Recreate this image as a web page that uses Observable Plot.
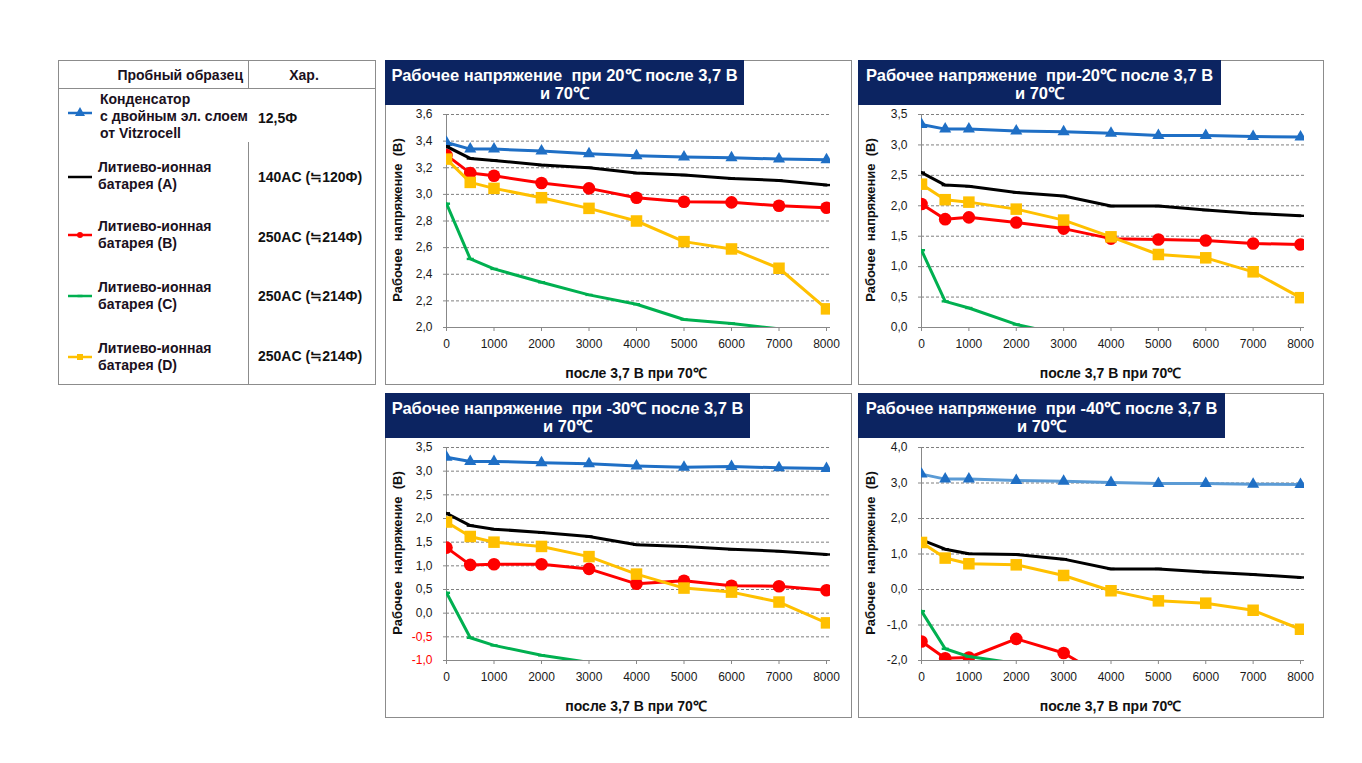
<!DOCTYPE html>
<html><head><meta charset="utf-8">
<script src="https://cdn.jsdelivr.net/npm/d3@7"></script>
<script src="https://cdn.jsdelivr.net/npm/@observablehq/plot@0.6"></script>
<style>
body{margin:0;background:#fff;font-family:"Liberation Sans",Arial,sans-serif;}
#root{position:relative;width:1362px;height:763px;overflow:hidden;}
.box{position:absolute;border:1px solid #8c8c8c;box-sizing:border-box;background:#fff;}
.abs{position:absolute;white-space:pre;}
.title{position:absolute;left:-1px;top:-1px;background:#0c2461;color:#fff;font-weight:bold;font-size:16.5px;line-height:18px;text-align:center;box-sizing:border-box;padding-top:6px;}
.ylab{position:absolute;font-weight:bold;font-size:13px;color:#111;text-align:center;transform:rotate(-90deg);white-space:pre;}
.xlab{position:absolute;font-weight:bold;font-size:14px;color:#111;text-align:center;white-space:pre;}
.lg{position:absolute;font-weight:bold;font-size:14px;color:#1a1020;line-height:17px;white-space:pre;}
svg.plot{position:absolute;left:0;top:0;background:transparent;}
</style>
</head><body><div id="root"></div>
<script>
// ---------- data ----------
const steps = [0, 500, 1000, 2000, 3000, 4000, 5000, 6000, 7000, 8000];
const xTickValues = [0, 1000, 2000, 3000, 4000, 5000, 6000, 7000, 8000];

const seriesLabels = [
  "Конденсатор\nс двойным эл. слоем\nот Vitzrocell",
  "Литиево-ионная\nбатарея (A)",
  "Литиево-ионная\nбатарея (B)",
  "Литиево-ионная\nбатарея (C)",
  "Литиево-ионная\nбатарея (D)"
];
const seriesRatings = ["12,5Ф", "140AC (≒120Ф)", "250AC (≒214Ф)", "250AC (≒214Ф)", "250AC (≒214Ф)"];
const tableHeader = ["Пробный образец", "Хар."];

const panelTitles = [
  "Рабочее напряжение  при 20℃ после 3,7 В",
  "Рабочее напряжение  при-20℃ после 3,7 В",
  "Рабочее напряжение  при -30℃ после 3,7 В",
  "Рабочее напряжение  при -40℃ после 3,7 В"
];
const panelSubtitle = "и 70℃";
const yAxisTitle = "Рабочее  напряжение  (В)";
const xAxisTitle = "после 3,7 В при 70℃";

// +20 °C
const yTicksP20 = [2.0, 2.2, 2.4, 2.6, 2.8, 3.0, 3.2, 3.4, 3.6];
const edlcP20 = [3.39, 3.34, 3.34, 3.325, 3.305, 3.29, 3.28, 3.275, 3.265, 3.26];
const liAP20  = [3.36, 3.27, 3.255, 3.22, 3.20, 3.16, 3.145, 3.12, 3.105, 3.07];
const liBP20  = [3.295, 3.16, 3.14, 3.085, 3.045, 2.975, 2.945, 2.94, 2.915, 2.90];
const liCP20  = [2.93, 2.515, 2.44, 2.34, 2.245, 2.175, 2.06, 2.03, 1.99];
const liDP20  = [3.265, 3.09, 3.045, 2.975, 2.895, 2.80, 2.645, 2.59, 2.445, 2.14];

// -20 °C
const yTicksM20 = [0.0, 0.5, 1.0, 1.5, 2.0, 2.5, 3.0, 3.5];
const edlcM20 = [3.335, 3.26, 3.26, 3.23, 3.215, 3.19, 3.155, 3.155, 3.14, 3.13];
const liAM20  = [2.545, 2.34, 2.32, 2.22, 2.16, 1.995, 1.995, 1.93, 1.875, 1.835];
const liBM20  = [2.03, 1.78, 1.81, 1.725, 1.625, 1.46, 1.445, 1.43, 1.38, 1.365];
const liCM20  = [1.27, 0.43, 0.32, 0.05, -0.12];
const liDM20  = [2.355, 2.10, 2.06, 1.945, 1.765, 1.49, 1.20, 1.145, 0.915, 0.49];

// -30 °C
const yTicksM30 = [-1.0, -0.5, 0.0, 0.5, 1.0, 1.5, 2.0, 2.5, 3.0, 3.5];
const edlcM30 = [3.295, 3.205, 3.205, 3.18, 3.155, 3.11, 3.085, 3.10, 3.07, 3.055];
const liAM30  = [2.11, 1.85, 1.775, 1.705, 1.62, 1.445, 1.41, 1.35, 1.31, 1.24];
const liBM30  = [1.385, 1.02, 1.035, 1.035, 0.935, 0.62, 0.685, 0.58, 0.57, 0.485];
const liCM30  = [0.43, -0.52, -0.68, -0.89, -1.04];
const liDM30  = [1.925, 1.62, 1.50, 1.41, 1.195, 0.825, 0.53, 0.445, 0.235, -0.205];

// -40 °C
const yTicksM40 = [-2.0, -1.0, 0.0, 1.0, 2.0, 3.0, 4.0];
const edlcM40 = [3.25, 3.11, 3.11, 3.07, 3.05, 3.015, 2.985, 2.985, 2.965, 2.96];
const liAM40  = [1.40, 1.135, 1.005, 0.985, 0.855, 0.58, 0.58, 0.49, 0.42, 0.34];
const liBM40  = [-1.465, -1.935, -1.915, -1.39, -1.79, -2.57];
const liCM40  = [-0.61, -1.67, -1.89, -2.08];
const liDM40  = [1.325, 0.885, 0.725, 0.695, 0.395, -0.035, -0.32, -0.385, -0.585, -1.12];

// ---------- styling ----------
const C = {blue:"#1f6fc5", blueLight:"#5b9bd5", black:"#000000", red:"#ff0000", green:"#00b050", yellow:"#ffc000"};
const dashSymbol = {draw(ctx, size){ const w = Math.sqrt(size); ctx.rect(-w/2, -1.2, w, 2.4); }};

const panels = [
  {left:385, top:60,  w:467, titleW:359, title:panelTitles[0], yTicks:yTicksP20, vals:[edlcP20, liAP20, liBP20, liCP20, liDP20], ml:60, xr:440, mr:21, blueLine:C.blue, negRed:false},
  {left:858, top:60,  w:466, titleW:363, title:panelTitles[1], yTicks:yTicksM20, vals:[edlcM20, liAM20, liBM20, liCM20, liDM20], ml:62, xr:441, mr:19, blueLine:C.blue, negRed:false},
  {left:385, top:393, w:467, titleW:365, title:panelTitles[2], yTicks:yTicksM30, vals:[edlcM30, liAM30, liBM30, liCM30, liDM30], ml:60, xr:440, mr:21, blueLine:C.blue, negRed:true},
  {left:858, top:393, w:466, titleW:367, title:panelTitles[3], yTicks:yTicksM40, vals:[edlcM40, liAM40, liBM40, liCM40, liDM40], ml:62, xr:441, mr:19, blueLine:C.blueLight, negRed:false}
];
const H = 325, MT = 53;
const fmt = d => d.toFixed(1).replace(".", ",");

const root = document.getElementById("root");
function el(cls, css, text){ const d=document.createElement("div"); d.className=cls; Object.assign(d.style, css); if(text!=null) d.textContent=text; return d; }

for (const p of panels) {
  const box = el("box", {left:p.left+"px", top:p.top+"px", width:p.w+"px", height:H+"px"});
  root.appendChild(box);
  const iw = p.w - 2, ih = H - 2;
  const rows = p.vals.map(v => v.map((y, i) => ({x: steps[i], y})));
  const lineColors = [p.blueLine, C.black, C.red, C.green, C.yellow];
  const markFill = [C.blue, C.black, C.red, C.green, C.yellow];
  const marks = [
    Plot.gridY(p.yTicks, {stroke:"#7f7f7f", strokeOpacity:1, strokeDasharray:"3,2", strokeWidth:1}),
    Plot.axisY(p.yTicks.filter(d => d >= 0 || !p.negRed), {tickSize:3, tickPadding:11, tickFormat:fmt, label:null, stroke:"#888", fill:"#1a1a1a"}),
    ...(p.negRed ? [Plot.axisY(p.yTicks.filter(d => d < 0), {tickSize:3, tickPadding:11, tickFormat:fmt, label:null, stroke:"#888", fill:"#ff0000"})] : []),
    Plot.axisX(xTickValues, {tickSize:4, tickPadding:8, tickFormat:d => String(d), label:null, stroke:"#888", fill:"#1a1a1a"}),
    Plot.ruleX([0], {stroke:"#888", strokeWidth:1}),
    Plot.ruleY([p.yTicks[0]], {stroke:"#888", strokeWidth:1})
  ];
  rows.forEach((r, k) => {
    marks.push(Plot.line(r, {x:"x", y:"y", stroke:lineColors[k], strokeWidth:3, strokeLinejoin:"round", clip:true}));
    if (k === 0) marks.push(Plot.dot(r, {x:"x", y:"y", symbol:"triangle", r:4.5, fill:markFill[k], stroke:null, clip:true}));
    if (k === 2) marks.push(Plot.dot(r, {x:"x", y:"y", symbol:"circle", r:6.3, fill:markFill[k], stroke:null, clip:true}));
    if (k === 4) marks.push(Plot.dot(r, {x:"x", y:"y", symbol:"square", r:6.5, fill:markFill[k], stroke:null, clip:true}));
    if (k === 1 || k === 3) marks.push(Plot.dot(r, {x:"x", y:"y", symbol:dashSymbol, r:4, fill:markFill[k], stroke:null, clip:true}));
  });
  const svg = Plot.plot({
    width: iw, height: ih,
    marginLeft: p.ml, marginRight: p.mr, marginTop: MT, marginBottom: ih - MT - 213,
    x: {domain:[0, 8000], range:[p.ml, p.xr]},
    y: {domain:[p.yTicks[0], p.yTicks[p.yTicks.length-1]]},
    style: {fontFamily:'"Liberation Sans", Arial, sans-serif', fontSize:"12px", background:"transparent", overflow:"visible"},
    marks
  });
  svg.setAttribute("class", "plot " + (svg.getAttribute("class")||""));
  svg.style.position = "absolute"; svg.style.left = "0px"; svg.style.top = "0px";
  box.appendChild(svg);
  const t = el("title", {width:p.titleW+"px", height:"45px"}, p.title + "\n" + panelSubtitle);
  t.style.whiteSpace = "pre";
  box.appendChild(t);
  box.appendChild(el("ylab", {left:(11 - 106)+"px", top:(MT + 106 - 8)+"px", width:"213px", height:"16px", lineHeight:"16px"}, yAxisTitle));
  const cx = (p.ml + p.xr) / 2;
  box.appendChild(el("xlab", {left:(cx - 100)+"px", top:(312 - 8)+"px", width:"200px", lineHeight:"16px"}, xAxisTitle));
}

// ---------- legend table ----------
const lg = el("box", {left:"58px", top:"60px", width:"318px", height:"325px"});
root.appendChild(lg);
lg.appendChild(el("abs", {left:"0px", top:"27px", width:"316px", height:"1px", background:"#8c8c8c"}));
lg.appendChild(el("abs", {left:"189px", top:"0px", width:"1px", height:"27px", background:"#8c8c8c"}));
lg.appendChild(el("abs", {left:"189px", top:"81px", width:"1px", height:"242px", background:"#8c8c8c"}));
lg.appendChild(el("lg", {left:"0px", top:"6px", width:"184px", textAlign:"right"}, tableHeader[0]));
lg.appendChild(el("lg", {left:"190px", top:"6px", width:"110px", textAlign:"center"}, tableHeader[1]));
const rowCenters = [113, 177, 235, 296, 357].map(v => v - 61);
const textTops = [30, 98, 157, 218, 279];
const valueCenters = [119, 178, 238, 297, 357].map(v => v - 61);
const swColors = [C.blue, C.black, C.red, C.green, C.yellow];
const swSym = ["tri", "none", "circle", "dash", "square"];
seriesLabels.forEach((lab, i) => {
  lg.appendChild(el("lg", {left: (i===0?41:39)+"px", top: textTops[i]+"px"}, lab));
  lg.appendChild(el("lg", {left:"199px", top:(valueCenters[i]-9)+"px", color:"#111"}, seriesRatings[i]));
  const ns = "http://www.w3.org/2000/svg";
  const s = document.createElementNS(ns, "svg");
  s.setAttribute("width", 26); s.setAttribute("height", 14);
  Object.assign(s.style, {position:"absolute", left:"9px", top:(rowCenters[i]-7)+"px"});
  const ln = document.createElementNS(ns, "line");
  ln.setAttribute("x1", 0); ln.setAttribute("x2", 24); ln.setAttribute("y1", 7); ln.setAttribute("y2", 7);
  ln.setAttribute("stroke", swColors[i]); ln.setAttribute("stroke-width", 2.5);
  s.appendChild(ln);
  let m = null;
  if (swSym[i] === "tri") { m = document.createElementNS(ns, "path"); m.setAttribute("d", "M12,1 L17,10 L7,10 Z"); }
  if (swSym[i] === "circle") { m = document.createElementNS(ns, "circle"); m.setAttribute("cx", 12); m.setAttribute("cy", 7); m.setAttribute("r", 3); }
  if (swSym[i] === "square") { m = document.createElementNS(ns, "rect"); m.setAttribute("x", 9); m.setAttribute("y", 4); m.setAttribute("width", 6); m.setAttribute("height", 6); }
  if (swSym[i] === "dash") { m = document.createElementNS(ns, "rect"); m.setAttribute("x", 9.5); m.setAttribute("y", 5.8); m.setAttribute("width", 5); m.setAttribute("height", 2.4); }
  if (m) { m.setAttribute("fill", swColors[i]); s.appendChild(m); }
  lg.appendChild(s);
});
</script>
</body></html>
